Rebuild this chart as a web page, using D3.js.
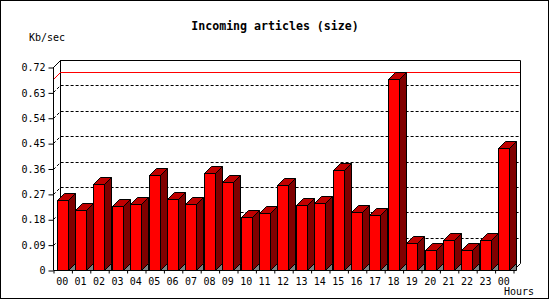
<!DOCTYPE html>
<html>
<head>
<meta charset="utf-8">
<script src="https://cdn.jsdelivr.net/npm/d3@7"></script>
<style>
  body { margin: 0; background: #fff; }
  text { font-family: "DejaVu Sans Mono", monospace; }
</style>
</head>
<body>
<div id="chart-area"></div>
<script>
// hourly values
var hours = ["00", "01", "02", "03", "04", "05", "06", "07", "08", "09", "10", "11",
	"12", "13", "14", "15", "16", "17", "18", "19", "20", "21", "22", "23", "00"];
var values = [0.248, 0.213, 0.305, 0.227, 0.234, 0.337, 0.251, 0.234, 0.344, 0.312, 0.187, 0.201,
	0.301, 0.231, 0.238, 0.355, 0.206, 0.195, 0.678, 0.095, 0.071, 0.106, 0.071, 0.106, 0.432];
var yTicks = [0, 0.09, 0.18, 0.27, 0.36, 0.45, 0.54, 0.63, 0.72];
var yTickLabels = ["0", "0.09", "0.18", "0.27", "0.36", "0.45", "0.54", "0.63", "0.72"];

var width = 550;
var height = 300;
var plot = { left: 53, right: 513, top: 67, bottom: 270 };
var depth = 7;

var svg = d3.select("#chart-area")
	.append("svg")
	.attr("width", width)
	.attr("height", height);

// outer frame
svg.append("rect")
	.attr("x", 0.5).attr("y", 0.5)
	.attr("width", width - 2).attr("height", height - 2)
	.attr("fill", "#fff")
	.attr("stroke", "#000");

// Scales
var x = d3.scaleBand()
	.domain(d3.range(values.length))
	.range([plot.left, plot.right])
	.paddingInner(0.4)
	.paddingOuter(0.2);
var xEdge = d3.scaleLinear()
	.domain([0, values.length])
	.range([plot.left, plot.right]);
var y = d3.scaleLinear()
	.domain([0, 0.72])
	.range([plot.bottom, plot.top]);

// back wall frame
var backTop = y(0.72) - depth;
var backBottom = plot.bottom - depth;
svg.append("path")
	.attr("d", "M" + (plot.left + 0.5) + "," + (y(0.72) + 0.5)
		+ "L" + (plot.left + depth + 0.5) + "," + (backTop + 0.5)
		+ "H" + (plot.right + depth + 0.5)
		+ "V" + (backBottom + 0.5)
		+ "L" + (plot.right + 0.5) + "," + (plot.bottom + 0.5))
	.attr("fill", "none")
	.attr("stroke", "#000");
svg.append("line")
	.attr("x1", plot.left + depth + 0.5).attr("x2", plot.left + depth + 0.5)
	.attr("y1", backTop).attr("y2", backBottom + 0.5)
	.attr("stroke", "#000");

// dotted grid lines
svg.selectAll(".grid")
	.data(yTicks.slice(1, -1))
	.enter().append("path")
	.attr("class", "grid")
	.attr("d", function(d){
		var yy = Math.round(y(d)) + 0.5;
		return "M" + (plot.left + 0.5) + "," + yy
			+ "L" + (plot.left + depth + 0.5) + "," + (yy - depth)
			+ "H" + (plot.right + depth);
	})
	.attr("fill", "none")
	.attr("stroke", "#000")
	.attr("stroke-dasharray", "3,2");

// red line at the maximum
var maxY = Math.round(y(d3.max(values))) + 0.5;
svg.append("path")
	.attr("d", "M" + (plot.left + 0.5) + "," + maxY
		+ "L" + (plot.left + depth + 0.5) + "," + (maxY - depth)
		+ "H" + (plot.right + depth))
	.attr("fill", "none")
	.attr("stroke", "#ff0000");

// bars
var bars = svg.selectAll(".bar")
	.data(values)
	.enter().append("g")
	.attr("class", "bar");

function pts(arr){
	return arr.map(function(p){ return p.join(","); }).join(" ");
}

bars.each(function(d, i){
	var g = d3.select(this);
	var x0 = Math.round(x(i)) + 0.5;
	var x1 = x0 + Math.round(x.bandwidth());
	var yt = Math.round(y(d)) + 0.5;
	var yb = plot.bottom + 0.5;

	// floor shadow
	g.append("polygon")
		.attr("points", pts([[x1, yb], [x1 + depth, yb - depth], [x1 + depth, yb]]))
		.attr("fill", "#808080")
		.attr("stroke", "#000");
	// side
	g.append("polygon")
		.attr("points", pts([[x1, yt], [x1 + depth, yt - depth], [x1 + depth, yb - depth], [x1, yb]]))
		.attr("fill", "#800000")
		.attr("stroke", "#000");
	// top
	g.append("polygon")
		.attr("points", pts([[x0, yt], [x0 + depth, yt - depth], [x1 + depth, yt - depth], [x1, yt]]))
		.attr("fill", "#c00000")
		.attr("stroke", "#000");
	// front
	g.append("rect")
		.attr("x", x0).attr("y", yt)
		.attr("width", x1 - x0).attr("height", yb - yt)
		.attr("fill", "#ff0000")
		.attr("stroke", "#000");
});

// front axes
svg.append("path")
	.attr("d", "M" + (plot.left + 0.5) + "," + y(0.72)
		+ "V" + (plot.bottom + 0.5)
		+ "H" + (plot.right + 0.5))
	.attr("fill", "none")
	.attr("stroke", "#000");

var yAxisCall = d3.axisLeft(y)
	.tickValues(yTicks)
	.tickSize(5)
	.tickFormat(function(d, i){ return yTickLabels[i]; });
var yAxisGroup = svg.append("g")
	.attr("transform", "translate(" + (plot.left + 0.5) + ",0.5)")
	.call(yAxisCall);
yAxisGroup.select(".domain").remove();
yAxisGroup.selectAll("text")
	.attr("font-family", "DejaVu Sans Mono")
	.attr("font-size", 10)
	.attr("fill", "#000");

// tick marks between the hours
var xTickCall = d3.axisBottom(xEdge)
	.tickValues(d3.range(values.length + 1))
	.tickSize(3)
	.tickFormat("");
var xTickGroup = svg.append("g")
	.attr("transform", "translate(0.5," + (plot.bottom + 0.5) + ")")
	.call(xTickCall);
xTickGroup.select(".domain").remove();

// hour labels
var xAxisCall = d3.axisBottom(x)
	.tickSize(0)
	.tickFormat(function(d){ return hours[d]; });
var xAxisGroup = svg.append("g")
	.attr("transform", "translate(0," + (plot.bottom + 5) + ")")
	.call(xAxisCall);
xAxisGroup.select(".domain").remove();
xAxisGroup.selectAll("text")
	.attr("font-family", "DejaVu Sans Mono")
	.attr("font-size", 10)
	.attr("fill", "#000");

// titles
svg.append("text")
	.attr("x", 275)
	.attr("y", 30)
	.attr("text-anchor", "middle")
	.attr("font-size", 11.6)
	.attr("font-weight", "bold")
	.text("Incoming articles (size)");

svg.append("text")
	.attr("x", 29)
	.attr("y", 41)
	.attr("font-size", 10)
	.text("Kb/sec");

svg.append("text")
	.attr("x", 504)
	.attr("y", 295)
	.attr("font-size", 10)
	.text("Hours");
</script>
</body>
</html>
